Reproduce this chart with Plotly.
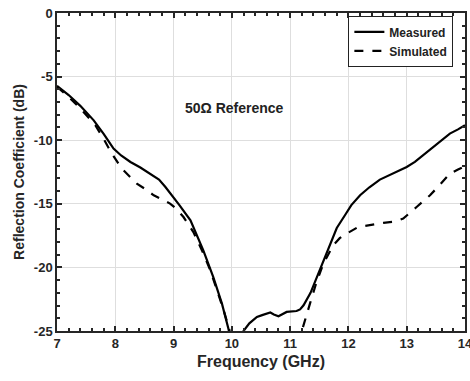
import plotly.graph_objects as go

# Measured curve (GHz, dB)
meas_f = [7.0, 7.2, 7.4, 7.63, 7.8, 7.97, 8.1, 8.26, 8.43, 8.6, 8.75, 8.86, 9.0, 9.1, 9.29, 9.51, 9.68, 9.83, 9.94, 10.0, 10.1,
          10.2, 10.3, 10.43, 10.52, 10.6, 10.66, 10.72, 10.8, 10.94, 11.02, 11.11, 11.17, 11.23, 11.35, 11.46, 11.57, 11.69,
          11.8, 11.94, 12.05, 12.2, 12.36, 12.54, 12.75, 13.0, 13.14, 13.28, 13.5, 13.74, 13.88, 14.0]
meas_db = [-5.72, -6.45, -7.3, -8.44, -9.5, -10.66, -11.2, -11.71, -12.15, -12.63, -13.1, -13.68, -14.46, -15.1, -16.3, -18.66,
           -20.75, -22.85, -24.8, -26.0, -26.5, -25.0, -24.4, -23.9, -23.75, -23.6, -23.55, -23.7, -23.84, -23.5, -23.45, -23.43,
           -23.3, -22.98, -22.0, -20.75, -19.4, -18.13, -16.9, -15.9, -15.1, -14.33, -13.7, -13.1, -12.65, -12.1, -11.7, -11.19,
           -10.4, -9.48, -9.15, -8.83]

# Simulated curve (GHz, dB)
sim_f = [7.0, 7.2, 7.4, 7.66, 7.8, 7.94, 8.11, 8.25, 8.37, 8.5, 8.66, 8.8, 8.94, 9.05, 9.17, 9.34, 9.5, 9.63, 9.75, 9.86, 9.96,
         10.05, 10.5, 11.0, 11.12, 11.2, 11.34, 11.45, 11.57, 11.74, 11.85, 11.97, 12.17, 12.4, 12.6, 12.8, 12.94, 13.17, 13.4,
         13.57, 13.74, 13.88, 14.0]
sim_db = [-5.8, -6.6, -7.5, -8.83, -9.9, -11.05, -12.23, -12.9, -13.41, -13.8, -14.33, -14.65, -14.98, -15.4, -16.04, -17.22,
          -18.8, -20.23, -21.8, -23.37, -24.95, -26.2, -28.0, -28.0, -26.5, -25.0, -22.85, -21.2, -19.7, -18.26, -17.7, -17.34,
          -16.82, -16.62, -16.5, -16.4, -16.16, -15.25, -14.33, -13.5, -12.63, -12.3, -12.05]

x_tick_vals = [7, 8, 9, 10, 11, 12, 13, 14]
x_tick_labels = ["7", "8", "9", "10", "11", "12", "13", "14"]
y_tick_vals = [0, -5, -10, -15, -20, -25]
y_tick_labels = ["0", "-5", "-10", "-15", "-20", "-25"]

font_family = "Liberation Sans, Arial, sans-serif"
axis_col = "#262626"

fig = go.Figure()
fig.add_trace(go.Scatter(x=meas_f, y=meas_db, mode="lines", name="<b>Measured</b>",
                         line=dict(color="black", width=2.2)))
fig.add_trace(go.Scatter(x=sim_f, y=sim_db, mode="lines", name="<b>Simulated</b>",
                         line=dict(color="black", width=2.2, dash="dash")))

fig.add_annotation(x=10.05, y=-7.5, text="<b>50Ω Reference</b>", showarrow=False,
                   font=dict(family=font_family, size=14, color="#222222"))

axis_common = dict(
    showline=True, linecolor=axis_col, linewidth=1.5, mirror="ticks",
    ticks="inside", ticklen=5, tickwidth=1.5, tickcolor=axis_col,
    showgrid=True, gridcolor="#dedede", gridwidth=1, zeroline=False,
    tickfont=dict(family=font_family, size=13, color=axis_col),
    automargin=False, ticklabeloverflow="allow",
)

fig.update_xaxes(range=[7, 14], tickmode="array", tickvals=x_tick_vals, ticktext=[f"<b>{t}</b>" for t in x_tick_labels],
                 minor=dict(dtick=0.2, ticks="inside", ticklen=3, tickcolor=axis_col, showgrid=False),
                 title=dict(text="<b>Frequency (GHz)</b>", font=dict(family=font_family, size=16, color=axis_col), standoff=5),
                 **axis_common)
fig.update_yaxes(range=[-25, 0], tickmode="array", tickvals=y_tick_vals, ticktext=[f"<b>{t}</b>" for t in y_tick_labels],
                 minor=dict(dtick=1, ticks="inside", ticklen=3, tickcolor=axis_col, showgrid=False),
                 title=dict(text="<b>Reflection Coefficient (dB)</b>", font=dict(family=font_family, size=14, color=axis_col), standoff=6),
                 **axis_common)

fig.update_layout(
    width=470, height=381,
    margin=dict(l=57, r=5, t=13, b=50),
    plot_bgcolor="white", paper_bgcolor="white",
    font=dict(family=font_family, color=axis_col),
    legend=dict(x=0.971, y=0.99, xanchor="right", yanchor="top",
                bgcolor="white", bordercolor="#222222", borderwidth=1.2,
                font=dict(family=font_family, size=12, color="#222222"),
                tracegroupgap=0, itemwidth=30),
    showlegend=True,
)

fig.write_html("out.html", config={"displayModeBar": False},
               post_script="document.body.style.margin='0';document.body.style.overflow='hidden';")
